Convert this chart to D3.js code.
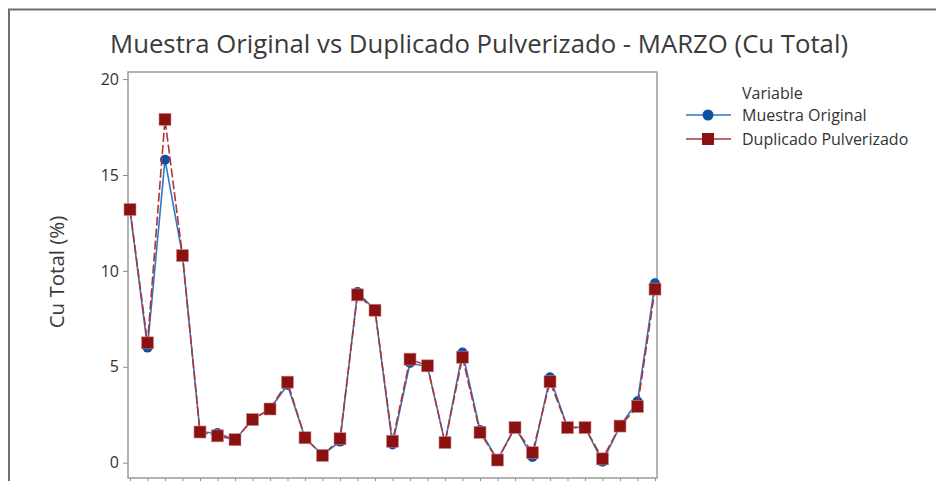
<!DOCTYPE html>
<html>
<head>
<meta charset="utf-8">
<script src="https://cdn.jsdelivr.net/npm/d3@7"></script>
<style>
  html, body { margin: 0; padding: 0; background: #fff; }
  svg { display: block; }
  text { font-family: "Open Sans", "Noto Sans", sans-serif; fill: #333; }
</style>
</head>
<body>
<svg id="chart" width="936" height="481"></svg>
<script>
// Días de marzo (1..31)
const days = d3.range(1, 32);

// Cu Total (%) por día
const muestraOriginal = [13.2, 6.0, 15.8, 10.8, 1.6, 1.55, 1.2, 2.25, 2.8, 4.05,
  1.3, 0.4, 1.1, 8.9, 7.95, 0.95, 5.2, 5.0, 1.05, 5.75,
  1.7, 0.15, 1.85, 0.3, 4.45, 1.85, 1.85, 0.05, 1.9, 3.2, 9.35];
const duplicadoPulverizado = [13.2, 6.25, 17.9, 10.8, 1.6, 1.4, 1.2, 2.25, 2.8, 4.2,
  1.3, 0.38, 1.25, 8.75, 7.95, 1.12, 5.4, 5.05, 1.05, 5.5,
  1.58, 0.14, 1.83, 0.52, 4.22, 1.83, 1.83, 0.2, 1.91, 2.93, 9.05];

const yTicks = [0, 5, 10, 15, 20];
const seriesNames = ["Muestra Original", "Duplicado Pulverizado"];

const svg = d3.select("#chart");

// Marco exterior del gráfico
svg.append("path")
  .attr("d", "M9,481 V9.5 H936")
  .attr("fill", "none")
  .attr("stroke", "#6f6f6f")
  .attr("stroke-width", 2);

const plot = { left: 128, right: 657, top: 72, bottom: 478 };

const x = d3.scaleLinear()
  .domain([1 - 2 / 17.5, 31 + 2 / 17.5])
  .range([plot.left, plot.right]);

const y = d3.scaleLinear()
  .domain([(462.7 - 478) / 19.18, (462.7 - 72) / 19.18])
  .range([plot.bottom, plot.top]);

// Título
svg.append("text")
  .attr("x", 479)
  .attr("y", 53)
  .attr("text-anchor", "middle")
  .attr("textLength", 738)
  .attr("lengthAdjust", "spacingAndGlyphs")
  .style("font-size", "26px")
  .style("fill", "#3a3a3a")
  .text("Muestra Original vs Duplicado Pulverizado - MARZO (Cu Total)");

// Eje Y
const yAxis = svg.append("g")
  .attr("transform", `translate(${plot.left},0)`)
  .call(d3.axisLeft(y).tickValues(yTicks).tickSize(5).tickPadding(4).tickFormat(d3.format("d")));
yAxis.select(".domain").remove();
yAxis.selectAll(".tick line").attr("stroke", "#8a8a8a");
yAxis.selectAll(".tick text").style("font-size", "16px").style("fill", "#333")
  .style("font-family", "'Open Sans', sans-serif");

// Eje X (marcas inferiores)
const xAxis = svg.append("g")
  .attr("transform", `translate(0,${plot.bottom})`)
  .call(d3.axisBottom(x).tickValues(days).tickSize(5).tickFormat(""));
xAxis.select(".domain").remove();
xAxis.selectAll(".tick line").attr("stroke", "#8a8a8a");

// Marco del área de trazado
svg.append("rect")
  .attr("x", plot.left)
  .attr("y", plot.top)
  .attr("width", plot.right - plot.left)
  .attr("height", plot.bottom - plot.top)
  .attr("fill", "none")
  .attr("stroke", "#9b9b9b")
  .attr("stroke-width", 1.5);

// Título del eje Y
svg.append("text")
  .attr("transform", `translate(64,272) rotate(-90)`)
  .attr("text-anchor", "middle")
  .style("font-size", "20.5px")
  .style("fill", "#3a3a3a")
  .text("Cu Total (%)");

const line = d3.line()
  .x((d, i) => x(days[i]))
  .y(d => y(d));

const blueLine = "#2e78c8", blueMark = "#0a52a6";
const redLine = "#b03434", redMark = "#8c1212";

// Serie: Muestra Original
svg.append("path")
  .datum(muestraOriginal)
  .attr("d", line)
  .attr("fill", "none")
  .attr("stroke", blueLine)
  .attr("stroke-width", 1.6);

svg.append("g").selectAll("circle")
  .data(muestraOriginal)
  .join("circle")
  .attr("cx", (d, i) => x(days[i]))
  .attr("cy", d => y(d))
  .attr("r", 5)
  .attr("fill", blueMark);

// Serie: Duplicado Pulverizado
svg.append("path")
  .datum(duplicadoPulverizado)
  .attr("d", line)
  .attr("fill", "none")
  .attr("stroke", redLine)
  .attr("stroke-width", 1.6)
  .attr("stroke-dasharray", "9,3");

svg.append("g").selectAll("rect")
  .data(duplicadoPulverizado)
  .join("rect")
  .attr("x", (d, i) => x(days[i]) - 6)
  .attr("y", d => y(d) - 6)
  .attr("width", 12)
  .attr("height", 12)
  .attr("fill", redMark)
  .attr("stroke", "#c98a8a")
  .attr("stroke-width", 0.6);

// Leyenda
const legend = svg.append("g");
legend.append("text")
  .attr("x", 742).attr("y", 99)
  .style("font-size", "16px")
  .text("Variable");

const legendItems = [
  { name: seriesNames[0], y: 115, line: blueLine, mark: blueMark, shape: "circle" },
  { name: seriesNames[1], y: 139, line: redLine, mark: redMark, shape: "square" }
];
legendItems.forEach(it => {
  legend.append("line")
    .attr("x1", 686).attr("x2", 731)
    .attr("y1", it.y).attr("y2", it.y)
    .attr("stroke", it.line).attr("stroke-width", 1.6);
  if (it.shape === "circle") {
    legend.append("circle").attr("cx", 708).attr("cy", it.y).attr("r", 5.5).attr("fill", it.mark);
  } else {
    legend.append("rect").attr("x", 702).attr("y", it.y - 6).attr("width", 12).attr("height", 12)
      .attr("fill", it.mark);
  }
  legend.append("text")
    .attr("x", 742).attr("y", it.y + 5.5)
    .style("font-size", "16px")
    .text(it.name);
});
</script>
</body>
</html>
